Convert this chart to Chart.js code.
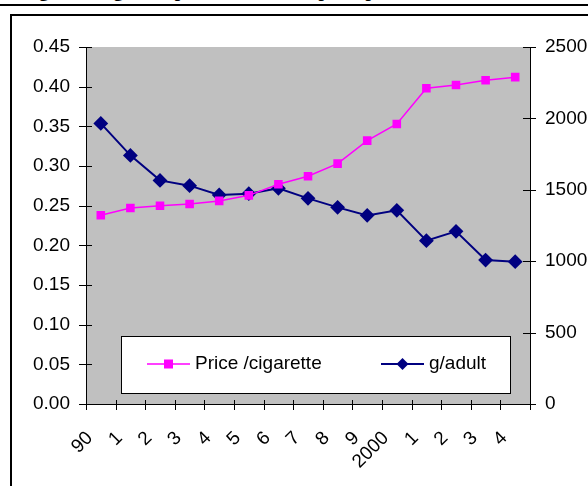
<!DOCTYPE html>
<html>
<head>
<meta charset="utf-8">
<script src="https://cdn.jsdelivr.net/npm/chart.js"></script>
<style>
  body { margin: 0; background: #fff; width: 588px; height: 486px; overflow: hidden; position: relative; }
  #title { position: absolute; left: 0; top: 0; width: 588px; height: 4px; overflow: hidden; }
  #title span { position: absolute; left: 22px; top: -20px; line-height: 19px; font: bold 19px "Liberation Serif", serif; white-space: nowrap; }
  #rule { position: absolute; left: 0; top: 4px; width: 588px; height: 2px; background: #000; }
  #frame { position: absolute; left: 10px; top: 14px; width: 600px; height: 500px; border: 2px solid #000; }
  #chart { position: absolute; left: 0; top: 0; }
</style>
</head>
<body>
<div id="title"><span>Figure 1  Cigarette price and consumption per adult, 1990 to 2004</span></div>
<div id="rule"></div>
<div id="frame"></div>
<canvas id="chart" width="588" height="486"></canvas>
<script>
// categories (years, shown the way the sheet labels them)
const years = ["90", "1", "2", "3", "4", "5", "6", "7", "8", "9", "2000", "1", "2", "3", "4"];

// price per cigarette (left axis)
const pricePerCig = [0.238, 0.247, 0.250, 0.252, 0.256, 0.263, 0.277, 0.287, 0.303, 0.332, 0.353, 0.398, 0.402, 0.408, 0.412];

// grams per adult (right axis)
const gramsPerAdult = [1965, 1741, 1566, 1529, 1464, 1473, 1510, 1440, 1377, 1321, 1356, 1144, 1209, 1008, 997];

const FONT = { family: "'Liberation Sans', Arial, sans-serif", size: 19 };

// grey plot area
const plotBg = {
  id: "plotBg",
  beforeDraw(chart) {
    const { ctx, chartArea: a } = chart;
    ctx.save();
    ctx.fillStyle = "#C0C0C0";
    ctx.fillRect(a.left, a.top, a.right - a.left, a.bottom - a.top);
    ctx.restore();
  }
};

// excel style tick marks that cross the axis lines
const crossTicks = {
  id: "crossTicks",
  afterDatasetsDraw(chart) {
    const { ctx, chartArea: a, scales } = chart;
    ctx.save();
    ctx.strokeStyle = "#000";
    ctx.lineWidth = 1;
    ctx.beginPath();
    scales.yL.ticks.forEach((t, i) => {
      const y = Math.round(scales.yL.getPixelForTick(i)) + 0.5;
      ctx.moveTo(a.left - 7, y); ctx.lineTo(a.left + 6, y);
    });
    scales.yR.ticks.forEach((t, i) => {
      const y = Math.round(scales.yR.getPixelForTick(i)) + 0.5;
      ctx.moveTo(a.right - 7, y); ctx.lineTo(a.right + 6, y);
    });
    const step = (a.right - a.left) / years.length;
    for (let i = 0; i <= years.length; i++) {
      const x = Math.round(a.left + i * step) + 0.5;
      ctx.moveTo(x, a.bottom - 4); ctx.lineTo(x, a.bottom + 6);
    }
    ctx.stroke();
    ctx.restore();
  }
};

// boxed legend inside the plot
const boxLegend = {
  id: "boxLegend",
  afterDraw(chart) {
    const { ctx } = chart;
    const ds = chart.data.datasets;
    ctx.save();
    ctx.fillStyle = "#fff";
    ctx.fillRect(121, 336, 389, 57);
    ctx.strokeStyle = "#000";
    ctx.lineWidth = 1;
    ctx.strokeRect(121.5, 336.5, 389, 57);
    const items = [{ x: 147, d: ds[0] }, { x: 381, d: ds[1] }];
    const cy = 364;
    ctx.font = FONT.size + "px " + FONT.family;
    ctx.textBaseline = "middle";
    items.forEach(it => {
      ctx.strokeStyle = it.d.borderColor;
      ctx.lineWidth = it.d.borderWidth;
      ctx.beginPath();
      ctx.moveTo(it.x, cy); ctx.lineTo(it.x + 43, cy);
      ctx.stroke();
      ctx.fillStyle = it.d.pointBackgroundColor;
      const mx = it.x + 21.5;
      if (it.d.pointStyle === "rect") {
        ctx.fillRect(mx - 4.5, cy - 4.5, 9, 9);
      } else {
        ctx.beginPath();
        ctx.moveTo(mx, cy - 6); ctx.lineTo(mx + 6, cy); ctx.lineTo(mx, cy + 6); ctx.lineTo(mx - 6, cy);
        ctx.closePath(); ctx.fill();
      }
      ctx.fillStyle = "#000";
      ctx.fillText(it.d.label, it.x + 48, cy);
    });
    ctx.restore();
  }
};

new Chart(document.getElementById("chart"), {
  type: "line",
  data: {
    labels: years,
    datasets: [
      {
        label: "Price /cigarette",
        data: pricePerCig,
        yAxisID: "yL",
        borderColor: "#FF00FF",
        backgroundColor: "#FF00FF",
        pointBackgroundColor: "#FF00FF",
        pointBorderColor: "#FF00FF",
        borderWidth: 1.5,
        pointStyle: "rect",
        pointRadius: 5,
        tension: 0
      },
      {
        label: "g/adult",
        data: gramsPerAdult,
        yAxisID: "yR",
        borderColor: "#000080",
        backgroundColor: "#000080",
        pointBackgroundColor: "#000080",
        pointBorderColor: "#000080",
        borderWidth: 2,
        pointStyle: "rectRot",
        pointRadius: 6,
        tension: 0
      }
    ]
  },
  options: {
    responsive: false,
    animation: false,
    devicePixelRatio: 1,
    layout: { padding: { top: 47, left: 0, right: 0, bottom: 0 } },
    plugins: { legend: { display: false }, tooltip: { enabled: false } },
    scales: {
      x: {
        offset: true,
        grid: { display: false, drawTicks: false },
        border: { display: true, color: "#000", width: 1 },
        ticks: {
          color: "#000", font: FONT, autoSkip: false,
          minRotation: 45, maxRotation: 45, padding: 23, labelOffset: -11
        },
        afterFit(s) { s.height = 82; }
      },
      yL: {
        position: "left",
        min: 0, max: 0.45,
        grid: { display: false, drawTicks: false },
        border: { display: true, color: "#000", width: 1 },
        ticks: { stepSize: 0.05, color: "#000", font: FONT, padding: 16, callback: v => v.toFixed(2) },
        afterFit(s) { s.width = 86; }
      },
      yR: {
        position: "right",
        min: 0, max: 2500,
        grid: { display: false, drawTicks: false },
        border: { display: true, color: "#000", width: 1 },
        ticks: { stepSize: 500, color: "#000", font: FONT, padding: 15, callback: v => String(v) },
        afterFit(s) { s.width = 58; }
      }
    }
  },
  plugins: [plotBg, crossTicks, boxLegend]
});
</script>
</body>
</html>
